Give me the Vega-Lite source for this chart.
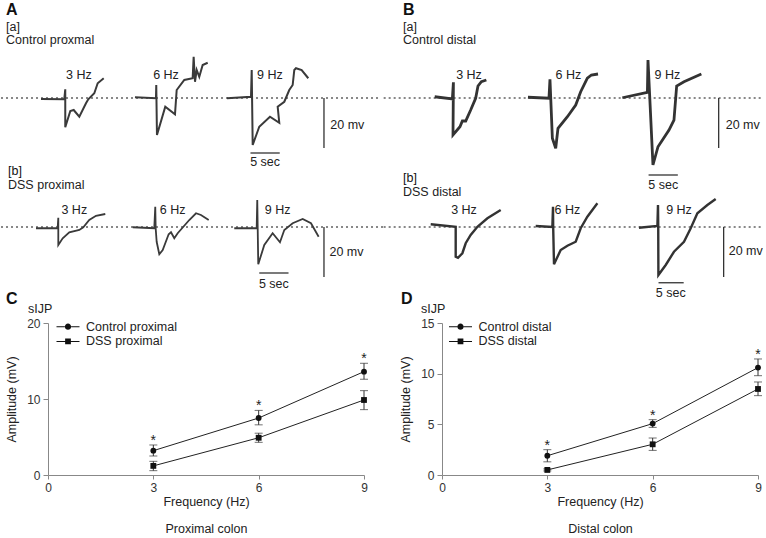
{
  "$schema": "https://vega.github.io/schema/vega-lite/v6.json",
  "padding": 0,
  "background": "white",
  "bounds": "flush",
  "columns": 2,
  "spacing": {"row": 4, "column": 78},
  "resolve": {"scale": {"color": "independent", "opacity": "independent", "shape": "independent"}, "legend": {"color": "independent", "opacity": "independent"}},
  "config": {
    "font": "Liberation Sans",
    "view": {"stroke": null},
    "axis": {"grid": false, "domainColor": "#888", "tickColor": "#888", "labelColor": "#333", "titleColor": "#222", "labelFontSize": 12, "titleFontSize": 12.5, "titleFontWeight": "normal"},
    "title": {"anchor": "start", "frame": "group", "color": "#111", "subtitleColor": "#222", "subtitleFontSize": 12.5, "subtitleLineHeight": 12.5},
    "text": {"fontSize": 12.5, "color": "#222"},
    "legend": {"title": null, "orient": "none", "labelFontSize": 12.5, "labelColor": "#222", "labelOffset": 6.5, "symbolSize": 529, "symbolStrokeWidth": 0, "symbolFillColor": "#111", "symbolOpacity": 1}
  },
  "datasets": {
    "traces": [
      {"p":"aa","f":"3 Hz","i":1,"t":6.80,"v":-0.4},{"p":"aa","f":"3 Hz","i":2,"t":10.78,"v":-0.5},{"p":"aa","f":"3 Hz","i":3,"t":10.95,"v":3.5},{"p":"aa","f":"3 Hz","i":4,"t":10.95,"v":-11.7},{"p":"aa","f":"3 Hz","i":5,"t":11.81,"v":-5.2},{"p":"aa","f":"3 Hz","i":6,"t":12.39,"v":-4.8},{"p":"aa","f":"3 Hz","i":7,"t":13.35,"v":-7.5},{"p":"aa","f":"3 Hz","i":8,"t":14.49,"v":-2.1},{"p":"aa","f":"3 Hz","i":9,"t":14.88,"v":-0.5},{"p":"aa","f":"3 Hz","i":10,"t":15.91,"v":1.9},{"p":"aa","f":"3 Hz","i":11,"t":16.49,"v":5.9},{"p":"aa","f":"3 Hz","i":12,"t":17.52,"v":7.9},
      {"p":"aa","f":"6 Hz","i":1,"t":22.86,"v":0.3},{"p":"aa","f":"6 Hz","i":2,"t":26.45,"v":-0.1},{"p":"aa","f":"6 Hz","i":3,"t":26.50,"v":5.2},{"p":"aa","f":"6 Hz","i":4,"t":26.62,"v":-14.8},{"p":"aa","f":"6 Hz","i":5,"t":28.04,"v":-3.5},{"p":"aa","f":"6 Hz","i":6,"t":29.70,"v":-6.5},{"p":"aa","f":"6 Hz","i":7,"t":29.99,"v":3.2},{"p":"aa","f":"6 Hz","i":8,"t":31.29,"v":7.2},{"p":"aa","f":"6 Hz","i":9,"t":32.72,"v":7.9},{"p":"aa","f":"6 Hz","i":10,"t":32.89,"v":16.5},{"p":"aa","f":"6 Hz","i":11,"t":33.12,"v":6.5},{"p":"aa","f":"6 Hz","i":12,"t":33.41,"v":11.2},{"p":"aa","f":"6 Hz","i":13,"t":33.85,"v":8.5},{"p":"aa","f":"6 Hz","i":14,"t":34.43,"v":13.2},{"p":"aa","f":"6 Hz","i":15,"t":35.29,"v":14.1},
      {"p":"aa","f":"9 Hz","i":1,"t":38.59,"v":-0.1},{"p":"aa","f":"9 Hz","i":2,"t":42.69,"v":0.5},{"p":"aa","f":"9 Hz","i":3,"t":42.81,"v":11.2},{"p":"aa","f":"9 Hz","i":4,"t":42.98,"v":-18.8},{"p":"aa","f":"9 Hz","i":5,"t":44.10,"v":-11.5},{"p":"aa","f":"9 Hz","i":6,"t":45.93,"v":-7.5},{"p":"aa","f":"9 Hz","i":7,"t":47.52,"v":-9.9},{"p":"aa","f":"9 Hz","i":8,"t":47.25,"v":-3.5},{"p":"aa","f":"9 Hz","i":9,"t":48.38,"v":-1.5},{"p":"aa","f":"9 Hz","i":10,"t":49.23,"v":3.2},{"p":"aa","f":"9 Hz","i":11,"t":49.81,"v":5.2},{"p":"aa","f":"9 Hz","i":12,"t":50.09,"v":11.2},{"p":"aa","f":"9 Hz","i":13,"t":50.38,"v":11.9},{"p":"aa","f":"9 Hz","i":14,"t":51.35,"v":11.2},{"p":"aa","f":"9 Hz","i":15,"t":52.48,"v":7.9},
      {"p":"ba","f":"3 Hz","i":1,"t":6.75,"v":0.5},{"p":"ba","f":"3 Hz","i":2,"t":9.77,"v":-0.4},{"p":"ba","f":"3 Hz","i":3,"t":9.95,"v":6.3},{"p":"ba","f":"3 Hz","i":4,"t":9.88,"v":-14.8},{"p":"ba","f":"3 Hz","i":5,"t":11.07,"v":-11.5},{"p":"ba","f":"3 Hz","i":6,"t":11.48,"v":-9.2},{"p":"ba","f":"3 Hz","i":7,"t":12.05,"v":-9.2},{"p":"ba","f":"3 Hz","i":8,"t":12.90,"v":-4.8},{"p":"ba","f":"3 Hz","i":9,"t":13.75,"v":-0.1},{"p":"ba","f":"3 Hz","i":10,"t":14.15,"v":4.8},{"p":"ba","f":"3 Hz","i":11,"t":14.73,"v":6.5},{"p":"ba","f":"3 Hz","i":12,"t":15.58,"v":7.2},
      {"p":"ba","f":"6 Hz","i":1,"t":22.69,"v":0.3},{"p":"ba","f":"6 Hz","i":2,"t":26.28,"v":-0.1},{"p":"ba","f":"6 Hz","i":3,"t":26.45,"v":7.5},{"p":"ba","f":"6 Hz","i":4,"t":26.86,"v":-16.1},{"p":"ba","f":"6 Hz","i":5,"t":27.43,"v":-20.1},{"p":"ba","f":"6 Hz","i":6,"t":27.82,"v":-12.1},{"p":"ba","f":"6 Hz","i":7,"t":29.43,"v":-7.5},{"p":"ba","f":"6 Hz","i":8,"t":30.85,"v":-2.8},{"p":"ba","f":"6 Hz","i":9,"t":31.70,"v":2.5},{"p":"ba","f":"6 Hz","i":10,"t":32.84,"v":7.9},{"p":"ba","f":"6 Hz","i":11,"t":33.53,"v":9.2},{"p":"ba","f":"6 Hz","i":12,"t":34.66,"v":9.6},
      {"p":"ba","f":"9 Hz","i":1,"t":38.82,"v":0.1},{"p":"ba","f":"9 Hz","i":2,"t":43.10,"v":2.3},{"p":"ba","f":"9 Hz","i":3,"t":43.20,"v":15.2},{"p":"ba","f":"9 Hz","i":4,"t":44.05,"v":-26.8},{"p":"ba","f":"9 Hz","i":5,"t":44.91,"v":-19.5},{"p":"ba","f":"9 Hz","i":6,"t":46.79,"v":-12.8},{"p":"ba","f":"9 Hz","i":7,"t":47.64,"v":-8.8},{"p":"ba","f":"9 Hz","i":8,"t":48.10,"v":4.8},{"p":"ba","f":"9 Hz","i":9,"t":49.35,"v":6.5},{"p":"ba","f":"9 Hz","i":10,"t":52.32,"v":9.6},
      {"p":"ab","f":"3 Hz","i":1,"t":5.95,"v":-0.5},{"p":"ab","f":"3 Hz","i":2,"t":9.65,"v":-0.5},{"p":"ab","f":"3 Hz","i":3,"t":9.76,"v":3.7},{"p":"ab","f":"3 Hz","i":4,"t":9.76,"v":-7.2},{"p":"ab","f":"3 Hz","i":5,"t":10.51,"v":-4.5},{"p":"ab","f":"3 Hz","i":6,"t":11.64,"v":-2.1},{"p":"ab","f":"3 Hz","i":7,"t":13.35,"v":-1.2},{"p":"ab","f":"3 Hz","i":8,"t":14.03,"v":-0.1},{"p":"ab","f":"3 Hz","i":9,"t":15.05,"v":2.8},{"p":"ab","f":"3 Hz","i":10,"t":16.20,"v":4.5},{"p":"ab","f":"3 Hz","i":11,"t":17.79,"v":5.2},
      {"p":"ab","f":"6 Hz","i":1,"t":22.47,"v":-0.1},{"p":"ab","f":"6 Hz","i":2,"t":26.16,"v":-0.5},{"p":"ab","f":"6 Hz","i":3,"t":26.33,"v":8.1},{"p":"ab","f":"6 Hz","i":4,"t":26.40,"v":-0.5},{"p":"ab","f":"6 Hz","i":5,"t":26.57,"v":-5.9},{"p":"ab","f":"6 Hz","i":6,"t":27.02,"v":-10.9},{"p":"ab","f":"6 Hz","i":7,"t":27.60,"v":-9.2},{"p":"ab","f":"6 Hz","i":8,"t":28.62,"v":-2.9},{"p":"ab","f":"6 Hz","i":9,"t":29.02,"v":-2.1},{"p":"ab","f":"6 Hz","i":10,"t":29.58,"v":-4.5},{"p":"ab","f":"6 Hz","i":11,"t":30.16,"v":-2.5},{"p":"ab","f":"6 Hz","i":12,"t":32.14,"v":2.8},{"p":"ab","f":"6 Hz","i":13,"t":33.29,"v":5.5},{"p":"ab","f":"6 Hz","i":14,"t":34.14,"v":4.8},{"p":"ab","f":"6 Hz","i":15,"t":35.46,"v":2.8},
      {"p":"ab","f":"9 Hz","i":1,"t":39.83,"v":-0.5},{"p":"ab","f":"9 Hz","i":2,"t":43.66,"v":-0.5},{"p":"ab","f":"9 Hz","i":3,"t":43.76,"v":10.8},{"p":"ab","f":"9 Hz","i":4,"t":43.93,"v":-14.9},{"p":"ab","f":"9 Hz","i":5,"t":44.96,"v":-7.2},{"p":"ab","f":"9 Hz","i":6,"t":46.39,"v":-2.5},{"p":"ab","f":"9 Hz","i":7,"t":47.64,"v":-6.1},{"p":"ab","f":"9 Hz","i":8,"t":48.38,"v":-1.2},{"p":"ab","f":"9 Hz","i":9,"t":49.81,"v":1.5},{"p":"ab","f":"9 Hz","i":10,"t":51.52,"v":3.2},{"p":"ab","f":"9 Hz","i":11,"t":52.94,"v":1.5},{"p":"ab","f":"9 Hz","i":12,"t":54.25,"v":-3.9},
      {"p":"bb","f":"3 Hz","i":1,"t":6.07,"v":1.1},{"p":"bb","f":"3 Hz","i":2,"t":10.34,"v":0.1},{"p":"bb","f":"3 Hz","i":3,"t":10.34,"v":-11.9},{"p":"bb","f":"3 Hz","i":4,"t":10.73,"v":-12.3},{"p":"bb","f":"3 Hz","i":5,"t":11.48,"v":-10.5},{"p":"bb","f":"3 Hz","i":6,"t":12.05,"v":-6.5},{"p":"bb","f":"3 Hz","i":7,"t":12.90,"v":-3.2},{"p":"bb","f":"3 Hz","i":8,"t":14.05,"v":0.1},{"p":"bb","f":"3 Hz","i":9,"t":15.76,"v":3.5},{"p":"bb","f":"3 Hz","i":10,"t":18.03,"v":6.8},
      {"p":"bb","f":"6 Hz","i":1,"t":24.01,"v":0.4},{"p":"bb","f":"6 Hz","i":2,"t":26.86,"v":0},{"p":"bb","f":"6 Hz","i":3,"t":26.97,"v":8.1},{"p":"bb","f":"6 Hz","i":4,"t":27.00,"v":0},{"p":"bb","f":"6 Hz","i":5,"t":27.14,"v":-14.9},{"p":"bb","f":"6 Hz","i":6,"t":28.28,"v":-9.2},{"p":"bb","f":"6 Hz","i":7,"t":29.43,"v":-7.5},{"p":"bb","f":"6 Hz","i":8,"t":30.85,"v":-5.9},{"p":"bb","f":"6 Hz","i":9,"t":31.70,"v":-0.5},{"p":"bb","f":"6 Hz","i":10,"t":32.84,"v":4.1},{"p":"bb","f":"6 Hz","i":11,"t":34.55,"v":9.5},
      {"p":"bb","f":"9 Hz","i":1,"t":41.66,"v":-0.3},{"p":"bb","f":"9 Hz","i":2,"t":44.81,"v":0.4},{"p":"bb","f":"9 Hz","i":3,"t":44.91,"v":8.8},{"p":"bb","f":"9 Hz","i":4,"t":44.95,"v":0.4},{"p":"bb","f":"9 Hz","i":5,"t":44.98,"v":-19.2},{"p":"bb","f":"9 Hz","i":6,"t":46.23,"v":-15.2},{"p":"bb","f":"9 Hz","i":7,"t":47.64,"v":-9.9},{"p":"bb","f":"9 Hz","i":8,"t":49.35,"v":-5.9},{"p":"bb","f":"9 Hz","i":9,"t":50.50,"v":-0.5},{"p":"bb","f":"9 Hz","i":10,"t":51.64,"v":5.5},{"p":"bb","f":"9 Hz","i":11,"t":53.35,"v":8.8},{"p":"bb","f":"9 Hz","i":12,"t":54.77,"v":11.2}
    ],
    "hz": [
      {"p":"aa","f":"3 Hz","t":13.29,"v":9.4},{"p":"aa","f":"6 Hz","t":28.16,"v":9.4},{"p":"aa","f":"9 Hz","t":45.93,"v":9.4},
      {"p":"ba","f":"3 Hz","t":12.61,"v":9.2},{"p":"ba","f":"6 Hz","t":29.60,"v":9.2},{"p":"ba","f":"9 Hz","t":46.51,"v":9.2},
      {"p":"ab","f":"3 Hz","t":12.49,"v":6.8},{"p":"ab","f":"6 Hz","t":29.31,"v":6.8},{"p":"ab","f":"9 Hz","t":47.25,"v":6.8},
      {"p":"bb","f":"3 Hz","t":11.76,"v":6.8},{"p":"bb","f":"6 Hz","t":29.43,"v":6.8},{"p":"bb","f":"9 Hz","t":48.50,"v":6.8}
    ],
    "prox": [
      {"g":"Control proximal","x":3,"m":3.2,"lo":2.5,"hi":3.95,"sig":"*"},
      {"g":"Control proximal","x":6,"m":7.5,"lo":6.6,"hi":8.5,"sig":"*"},
      {"g":"Control proximal","x":9,"m":13.6,"lo":12.6,"hi":14.7,"sig":"*"},
      {"g":"DSS proximal","x":3,"m":1.2,"lo":0.57,"hi":1.8,"sig":""},
      {"g":"DSS proximal","x":6,"m":4.9,"lo":4.3,"hi":5.5,"sig":""},
      {"g":"DSS proximal","x":9,"m":9.87,"lo":8.6,"hi":11.1,"sig":""}
    ],
    "dist": [
      {"g":"Control distal","x":3,"m":1.9,"lo":1.3,"hi":2.5,"sig":"*"},
      {"g":"Control distal","x":6,"m":5.07,"lo":4.7,"hi":5.46,"sig":"*"},
      {"g":"Control distal","x":9,"m":10.6,"lo":9.8,"hi":11.45,"sig":"*"},
      {"g":"DSS distal","x":3,"m":0.5,"lo":0.4,"hi":0.6,"sig":""},
      {"g":"DSS distal","x":6,"m":3.03,"lo":2.43,"hi":3.65,"sig":""},
      {"g":"DSS distal","x":9,"m":8.49,"lo":7.83,"hi":9.18,"sig":""}
    ]
  },
  "concat": [
    {
      "width": 316, "height": 173,
      "title": {"text": "A", "subtitle": ["[a]", "Control proxmal"], "dx": -42, "offset": -46, "fontSize": 16, "fontWeight": "bold", "subtitlePadding": 3},
      "data": {"values": [{}]},
      "layer": [
        {"mark": {"type": "rule", "strokeDash": [2, 3], "strokeWidth": 2, "color": "#888"},
         "encoding": {"x": {"datum": -0.03, "type": "quantitative", "scale": {"domain": [8, 62], "nice": false, "zero": false}, "axis": null}, "x2": {"datum": 64.9}, "y": {"datum": 0, "type": "quantitative", "scale": {"domain": [-30, 39.2], "nice": false, "zero": false}, "axis": null}}},
        {"data": {"name": "traces"}, "transform": [{"filter": "datum.p == 'aa'"}], "mark": {"type": "line", "color": "#3a3a3a", "strokeWidth": 2},
         "encoding": {"x": {"field": "t", "type": "quantitative"}, "y": {"field": "v", "type": "quantitative"}, "detail": {"field": "f"}, "order": {"field": "i", "type": "quantitative"}}},
        {"data": {"name": "hz"}, "transform": [{"filter": "datum.p == 'aa'"}], "mark": {"type": "text", "baseline": "middle"},
         "encoding": {"x": {"field": "t", "type": "quantitative"}, "y": {"field": "v", "type": "quantitative"}, "text": {"field": "f"}}},
        {"mark": {"type": "rule", "color": "#333", "strokeWidth": 1.3}, "encoding": {"x": {"datum": 55.16}, "y": {"datum": 0}, "y2": {"datum": -20}}},
        {"mark": {"type": "rule", "color": "#333", "strokeWidth": 1.3}, "encoding": {"x": {"datum": 42.6}, "x2": {"datum": 47.6}, "y": {"datum": -22}}},
        {"mark": {"type": "text", "align": "left", "baseline": "middle"}, "encoding": {"x": {"datum": 56.24}, "y": {"datum": -10.8}, "text": {"value": "20 mv"}}},
        {"mark": {"type": "text", "baseline": "middle"}, "encoding": {"x": {"datum": 45.1}, "y": {"datum": -25.6}, "text": {"value": "5 sec"}}}
      ]
    },
    {
      "width": 316, "height": 173,
      "title": {"text": "B", "subtitle": ["[a]", "Control distal"], "dx": -39, "offset": -46, "fontSize": 16, "fontWeight": "bold", "subtitlePadding": 3},
      "data": {"values": [{}]},
      "layer": [
        {"mark": {"type": "rule", "strokeDash": [2, 3], "strokeWidth": 2, "color": "#888"},
         "encoding": {"x": {"datum": -1.97, "type": "quantitative", "scale": {"domain": [8, 62], "nice": false, "zero": false}, "axis": null}, "x2": {"datum": 62.63}, "y": {"datum": 0, "type": "quantitative", "scale": {"domain": [-30, 39.2], "nice": false, "zero": false}, "axis": null}}},
        {"data": {"name": "traces"}, "transform": [{"filter": "datum.p == 'ba'"}], "mark": {"type": "line", "color": "#333", "strokeWidth": 2.8},
         "encoding": {"x": {"field": "t", "type": "quantitative"}, "y": {"field": "v", "type": "quantitative"}, "detail": {"field": "f"}, "order": {"field": "i", "type": "quantitative"}}},
        {"data": {"name": "hz"}, "transform": [{"filter": "datum.p == 'ba'"}], "mark": {"type": "text", "baseline": "middle"},
         "encoding": {"x": {"field": "t", "type": "quantitative"}, "y": {"field": "v", "type": "quantitative"}, "text": {"field": "f"}}},
        {"mark": {"type": "rule", "color": "#333", "strokeWidth": 1.3}, "encoding": {"x": {"datum": 55.28}, "y": {"datum": 0}, "y2": {"datum": -20}}},
        {"mark": {"type": "rule", "color": "#333", "strokeWidth": 1.3}, "encoding": {"x": {"datum": 43.3}, "x2": {"datum": 48.3}, "y": {"datum": -30.8}}},
        {"mark": {"type": "text", "align": "left", "baseline": "middle"}, "encoding": {"x": {"datum": 56.48}, "y": {"datum": -10.8}, "text": {"value": "20 mv"}}},
        {"mark": {"type": "text", "baseline": "middle"}, "encoding": {"x": {"datum": 45.8}, "y": {"datum": -34.8}, "text": {"value": "5 sec"}}}
      ]
    },
    {
      "width": 316, "height": 141.3,
      "title": {"text": "[b]", "subtitle": "DSS proximal", "dx": -40, "offset": -14, "fontSize": 12.5, "fontWeight": "normal", "subtitlePadding": 1},
      "data": {"values": [{}]},
      "layer": [
        {"mark": {"type": "rule", "strokeDash": [2, 3], "strokeWidth": 2, "color": "#888"},
         "encoding": {"x": {"datum": -0.03, "type": "quantitative", "scale": {"domain": [8, 62], "nice": false, "zero": false}, "axis": null}, "x2": {"datum": 65.4}, "y": {"datum": 0, "type": "quantitative", "scale": {"domain": [-36.52, 20], "nice": false, "zero": false}, "axis": null}}},
        {"data": {"name": "traces"}, "transform": [{"filter": "datum.p == 'ab'"}], "mark": {"type": "line", "color": "#3a3a3a", "strokeWidth": 1.8},
         "encoding": {"x": {"field": "t", "type": "quantitative"}, "y": {"field": "v", "type": "quantitative"}, "detail": {"field": "f"}, "order": {"field": "i", "type": "quantitative"}}},
        {"data": {"name": "hz"}, "transform": [{"filter": "datum.p == 'ab'"}], "mark": {"type": "text", "baseline": "middle"},
         "encoding": {"x": {"field": "t", "type": "quantitative"}, "y": {"field": "v", "type": "quantitative"}, "text": {"field": "f"}}},
        {"mark": {"type": "rule", "color": "#333", "strokeWidth": 1.3}, "encoding": {"x": {"datum": 55.16}, "y": {"datum": 0}, "y2": {"datum": -20}}},
        {"mark": {"type": "rule", "color": "#333", "strokeWidth": 1.3}, "encoding": {"x": {"datum": 44.1}, "x2": {"datum": 49.1}, "y": {"datum": -18.4}}},
        {"mark": {"type": "text", "align": "left", "baseline": "middle"}, "encoding": {"x": {"datum": 56.1}, "y": {"datum": -10}, "text": {"value": "20 mv"}}},
        {"mark": {"type": "text", "baseline": "middle"}, "encoding": {"x": {"datum": 46.6}, "y": {"datum": -22.8}, "text": {"value": "5 sec"}}}
      ]
    },
    {
      "width": 316, "height": 141.3,
      "title": {"text": "[b]", "subtitle": "DSS distal", "dx": -39, "offset": -21, "fontSize": 12.5, "fontWeight": "normal", "subtitlePadding": 1},
      "data": {"values": [{}]},
      "layer": [
        {"mark": {"type": "rule", "strokeDash": [2, 3], "strokeWidth": 2, "color": "#888"},
         "encoding": {"x": {"datum": -1.97, "type": "quantitative", "scale": {"domain": [8, 62], "nice": false, "zero": false}, "axis": null}, "x2": {"datum": 62.63}, "y": {"datum": 0, "type": "quantitative", "scale": {"domain": [-36.52, 20], "nice": false, "zero": false}, "axis": null}}},
        {"data": {"name": "traces"}, "transform": [{"filter": "datum.p == 'bb'"}], "mark": {"type": "line", "color": "#333", "strokeWidth": 2.4},
         "encoding": {"x": {"field": "t", "type": "quantitative"}, "y": {"field": "v", "type": "quantitative"}, "detail": {"field": "f"}, "order": {"field": "i", "type": "quantitative"}}},
        {"data": {"name": "hz"}, "transform": [{"filter": "datum.p == 'bb'"}], "mark": {"type": "text", "baseline": "middle"},
         "encoding": {"x": {"field": "t", "type": "quantitative"}, "y": {"field": "v", "type": "quantitative"}, "text": {"field": "f"}}},
        {"mark": {"type": "rule", "color": "#333", "strokeWidth": 1.3}, "encoding": {"x": {"datum": 56.13}, "y": {"datum": 0}, "y2": {"datum": -20}}},
        {"mark": {"type": "rule", "color": "#333", "strokeWidth": 1.3}, "encoding": {"x": {"datum": 45.0}, "x2": {"datum": 49.3}, "y": {"datum": -22.3}}},
        {"mark": {"type": "text", "align": "left", "baseline": "middle"}, "encoding": {"x": {"datum": 57.0}, "y": {"datum": -9.6}, "text": {"value": "20 mv"}}},
        {"mark": {"type": "text", "baseline": "middle"}, "encoding": {"x": {"datum": 47.1}, "y": {"datum": -26.4}, "text": {"value": "5 sec"}}}
      ]
    },
    {
      "width": 316, "height": 152,
      "title": {"text": "C", "dx": -42, "offset": -4, "fontSize": 16, "fontWeight": "bold"},
      "data": {"name": "prox"},
      "layer": [
        {"mark": {"type": "line", "color": "#222", "strokeWidth": 1},
         "encoding": {
           "x": {"field": "x", "type": "quantitative", "scale": {"domain": [0, 9], "nice": false}, "axis": {"values": [0, 3, 6, 9], "tickSize": 4, "labelPadding": 3, "labelFlush": false, "title": ["Frequency (Hz)", "Proximal colon"], "titleLineHeight": 27, "titlePadding": 2}},
           "y": {"field": "m", "type": "quantitative", "scale": {"domain": [0, 20], "nice": false}, "axis": {"values": [0, 5, 10, 15, 20], "tickSize": 5, "labelPadding": 3, "title": "Amplitude (mV)", "titlePadding": 8}}, "detail": {"field": "g"}}},
        {"mark": {"type": "rule", "color": "#333", "strokeWidth": 1}, "encoding": {"x": {"field": "x", "type": "quantitative"}, "y": {"field": "lo", "type": "quantitative"}, "y2": {"field": "hi"}}},
        {"mark": {"type": "tick", "orient": "horizontal", "size": 8, "thickness": 1, "color": "#333"}, "encoding": {"x": {"field": "x", "type": "quantitative"}, "y": {"field": "lo", "type": "quantitative"}}},
        {"mark": {"type": "tick", "orient": "horizontal", "size": 8, "thickness": 1, "color": "#333"}, "encoding": {"x": {"field": "x", "type": "quantitative"}, "y": {"field": "hi", "type": "quantitative"}}},
        {"transform": [{"filter": "indexof(datum.g, 'Control') == 0"}],
         "mark": {"type": "point", "shape": "circle", "filled": true, "size": 34, "opacity": 1},
         "encoding": {"x": {"field": "x", "type": "quantitative"}, "y": {"field": "m", "type": "quantitative"},
           "color": {"field": "g", "type": "nominal", "scale": {"range": ["#111111"]},
             "legend": {"legendX": 8.5, "legendY": -7.8, "symbolType": "M-1,-0.045H-0.27V0.045H-1Z M0.27,-0.045H1V0.045H0.27Z M-0.27,0A0.27,0.27,0,1,1,0.27,0A0.27,0.27,0,1,1,-0.27,0Z"}}}},
        {"transform": [{"filter": "indexof(datum.g, 'DSS') == 0"}],
         "mark": {"type": "point", "shape": "square", "filled": true, "size": 34, "color": "#111111"},
         "encoding": {"x": {"field": "x", "type": "quantitative"}, "y": {"field": "m", "type": "quantitative"},
           "opacity": {"field": "g", "type": "nominal", "scale": {"range": [1]},
             "legend": {"legendX": 8.5, "legendY": 6.9, "symbolType": "M-1,-0.045H-0.25V0.045H-1Z M0.25,-0.045H1V0.045H0.25Z M-0.25,-0.25H0.25V0.25H-0.25Z"}}}},
        {"transform": [{"filter": "datum.sig != ''"}], "mark": {"type": "text", "fontSize": 14, "baseline": "alphabetic"}, "encoding": {"x": {"field": "x", "type": "quantitative"}, "y": {"field": "hi", "type": "quantitative"}, "text": {"field": "sig"}}},
        {"data": {"values": [{}]}, "mark": {"type": "text", "align": "left", "baseline": "middle", "dx": -20, "dy": -14}, "encoding": {"x": {"datum": 0}, "y": {"datum": 20}, "text": {"value": "sIJP"}}}
      ]
    },
    {
      "width": 316, "height": 152,
      "title": {"text": "D", "dx": -41, "offset": -4, "fontSize": 16, "fontWeight": "bold"},
      "data": {"name": "dist"},
      "layer": [
        {"mark": {"type": "line", "color": "#222", "strokeWidth": 1},
         "encoding": {
           "x": {"field": "x", "type": "quantitative", "scale": {"domain": [0, 9], "nice": false}, "axis": {"values": [0, 3, 6, 9], "tickSize": 4, "labelPadding": 3, "labelFlush": false, "title": ["Frequency (Hz)", "Distal colon"], "titleLineHeight": 27, "titlePadding": 2}},
           "y": {"field": "m", "type": "quantitative", "scale": {"domain": [0, 15], "nice": false}, "axis": {"values": [0, 5, 10, 15], "tickSize": 5, "labelPadding": 3, "title": "Amplitude (mV)", "titlePadding": 8}}, "detail": {"field": "g"}}},
        {"mark": {"type": "rule", "color": "#333", "strokeWidth": 1}, "encoding": {"x": {"field": "x", "type": "quantitative"}, "y": {"field": "lo", "type": "quantitative"}, "y2": {"field": "hi"}}},
        {"mark": {"type": "tick", "orient": "horizontal", "size": 8, "thickness": 1, "color": "#333"}, "encoding": {"x": {"field": "x", "type": "quantitative"}, "y": {"field": "lo", "type": "quantitative"}}},
        {"mark": {"type": "tick", "orient": "horizontal", "size": 8, "thickness": 1, "color": "#333"}, "encoding": {"x": {"field": "x", "type": "quantitative"}, "y": {"field": "hi", "type": "quantitative"}}},
        {"transform": [{"filter": "indexof(datum.g, 'Control') == 0"}],
         "mark": {"type": "point", "shape": "circle", "filled": true, "size": 34, "opacity": 1},
         "encoding": {"x": {"field": "x", "type": "quantitative"}, "y": {"field": "m", "type": "quantitative"},
           "color": {"field": "g", "type": "nominal", "scale": {"range": ["#111111"]},
             "legend": {"legendX": 7, "legendY": -7.8, "symbolType": "M-1,-0.045H-0.27V0.045H-1Z M0.27,-0.045H1V0.045H0.27Z M-0.27,0A0.27,0.27,0,1,1,0.27,0A0.27,0.27,0,1,1,-0.27,0Z"}}}},
        {"transform": [{"filter": "indexof(datum.g, 'DSS') == 0"}],
         "mark": {"type": "point", "shape": "square", "filled": true, "size": 34, "color": "#111111"},
         "encoding": {"x": {"field": "x", "type": "quantitative"}, "y": {"field": "m", "type": "quantitative"},
           "opacity": {"field": "g", "type": "nominal", "scale": {"range": [1]},
             "legend": {"legendX": 7, "legendY": 6.9, "symbolType": "M-1,-0.045H-0.25V0.045H-1Z M0.25,-0.045H1V0.045H0.25Z M-0.25,-0.25H0.25V0.25H-0.25Z"}}}},
        {"transform": [{"filter": "datum.sig != ''"}], "mark": {"type": "text", "fontSize": 14, "baseline": "alphabetic"}, "encoding": {"x": {"field": "x", "type": "quantitative"}, "y": {"field": "hi", "type": "quantitative"}, "text": {"field": "sig"}}},
        {"data": {"values": [{}]}, "mark": {"type": "text", "align": "left", "baseline": "middle", "dx": -21, "dy": -14}, "encoding": {"x": {"datum": 0}, "y": {"datum": 15}, "text": {"value": "sIJP"}}}
      ]
    }
  ]
}
